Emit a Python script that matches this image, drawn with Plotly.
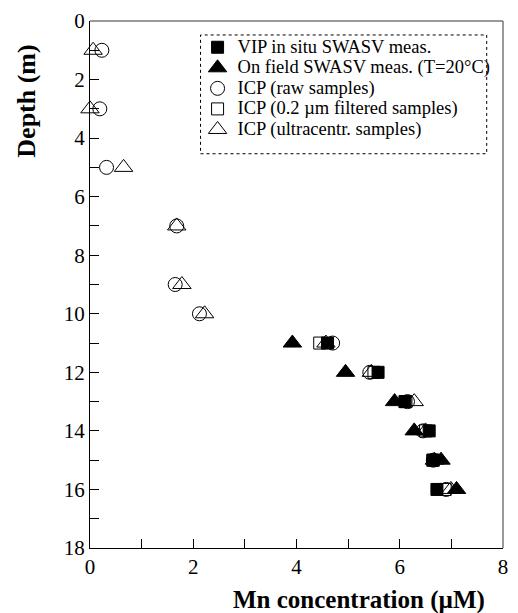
import plotly.graph_objects as go

# ---- data (Mn concentration in µM vs depth in m) ----
vip_depth = [11, 12, 13, 14, 15, 16]
vip_mn = [4.60, 5.58, 6.10, 6.57, 6.64, 6.72]

field_depth = [11, 12, 13, 14, 15, 16]
field_mn = [3.92, 4.95, 5.90, 6.28, 6.80, 7.10]

raw_depth = [1, 3, 5, 7, 9, 10, 11, 12, 13, 14, 15, 16]
raw_mn = [0.23, 0.19, 0.32, 1.68, 1.65, 2.12, 4.70, 5.42, 6.15, 6.45, 6.65, 6.90]

filt_depth = [11, 12, 13, 14, 15, 16]
filt_mn = [4.45, 5.50, 6.12, 6.50, 6.65, 6.88]

ultra_depth = [1, 3, 5, 7, 9, 10, 11, 12, 13, 14, 15, 16]
ultra_mn = [0.06, 0.00, 0.65, 1.68, 1.78, 2.22, 4.57, 5.45, 6.28, 6.50, 6.67, 6.99]

x_ticks = list(range(0, 9))
x_ticktext = [str(v) if v % 2 == 0 else "" for v in x_ticks]
y_ticks = list(range(0, 19))
y_ticktext = [str(v) if v % 2 == 0 else "" for v in y_ticks]

FONT = "Liberation Serif"

fig = go.Figure()

def lbl(t):
    return '<span style="font-size:18.5px">' + t + '</span>'

series = [
    ("ICP (raw samples)", raw_mn, raw_depth, "circle-open", 14, 3),
    ("ICP (0.2 µm filtered samples)", filt_mn, filt_depth, "square-open", 12, 4),
    ("ICP (ultracentr. samples)", ultra_mn, ultra_depth, "triangle-up-open", 16, 5),
    ("VIP in situ SWASV meas.", vip_mn, vip_depth, "square", 12, 1),
    ("On field SWASV meas. (T=20°C)", field_mn, field_depth, "triangle-up", 16, 2),
]
for name, xs, ys, sym, size, rank in series:
    fig.add_trace(go.Scatter(
        x=xs, y=ys, mode="markers", name=lbl(name), legendrank=rank,
        cliponaxis=False,
        marker=dict(symbol=sym, size=size, color="black",
                    line=dict(color="black", width=1)),
    ))

fig.update_layout(
    width=518, height=613,
    margin=dict(l=90, r=9.5, t=20, b=65),
    plot_bgcolor="white", paper_bgcolor="white",
    font=dict(family=FONT, color="black", size=20),
    showlegend=True,
    legend=dict(
        x=(199 - 90) / 418.5, y=(548 - 31) / 528, xanchor="left", yanchor="top",
        bgcolor="rgba(0,0,0,0)", borderwidth=0,
        font=dict(family=FONT, size=13.5, color="black"),
        tracegroupgap=0, itemsizing="trace",
    ),
    xaxis=dict(
        range=[0, 8], tickmode="array", tickvals=x_ticks, ticktext=x_ticktext,
        ticks="inside", ticklen=9, tickwidth=1, tickcolor="black",
        showline=True, linecolor="black", linewidth=1.3,
        showgrid=False, zeroline=False,
        tickfont=dict(family=FONT, size=21, color="black"),
    ),
    yaxis=dict(
        range=[18, 0], tickmode="array", tickvals=y_ticks, ticktext=y_ticktext,
        ticks="inside", ticklen=9, tickwidth=1, tickcolor="black",
        showline=True, linecolor="black", linewidth=1.3,
        showgrid=False, zeroline=False,
        tickfont=dict(family=FONT, size=21, color="black"),
    ),
    shapes=[
        # top and right frame (gray)
        dict(type="line", xref="paper", yref="paper", x0=0, x1=1, y0=1, y1=1,
             line=dict(color="#777777", width=1.5)),
        dict(type="line", xref="paper", yref="paper", x0=1, x1=1, y0=0, y1=1,
             line=dict(color="#777777", width=1.5)),
        # dotted legend box
        dict(type="rect", xref="paper", yref="paper",
             x0=(202 - 90) / 418.5, x1=(492 - 90) / 418.5,
             y0=(548 - 153) / 528, y1=(548 - 34) / 528,
             line=dict(color="black", width=1, dash="dot")),
    ],
    annotations=[
        dict(text="<b>Depth (m)</b>", textangle=-90, xref="paper", yref="paper",
             x=(26 - 90) / 418.5, y=(548 - 100) / 528, xanchor="center", yanchor="middle",
             showarrow=False, font=dict(family=FONT, size=26, color="black")),
        dict(text="<b>Mn concentration (µM)</b>", xref="paper", yref="paper",
             x=(363 - 90) / 418.5, y=(548 - 600) / 528, xanchor="center", yanchor="middle",
             showarrow=False, font=dict(family=FONT, size=25, color="black")),
    ],
)

fig.write_html("out.html")
